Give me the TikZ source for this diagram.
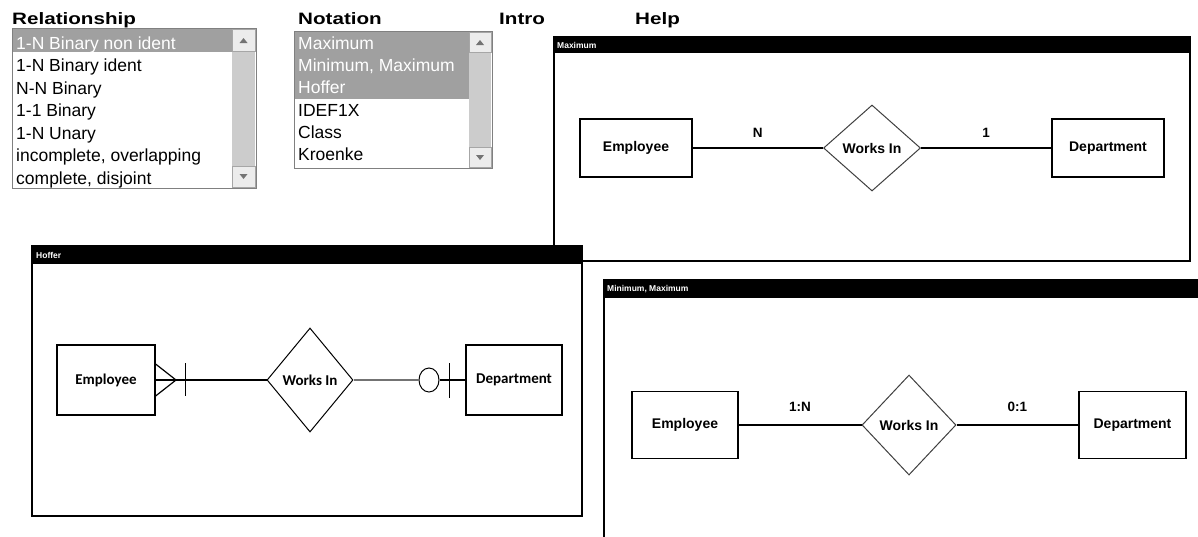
\documentclass[tikz,border=0pt]{standalone}
\usepackage{fontspec}
\setmainfont{Liberation Sans}
\newfontfamily\hdrfont[FakeStretch=1.25]{Liberation Sans}
\newfontfamily\hofont{Carlito}
\usetikzlibrary{shapes.geometric,positioning}
\definecolor{selgray}{RGB}{160,160,160}
\definecolor{trackgray}{RGB}{204,204,204}
\definecolor{btngray}{RGB}{236,236,236}

\begin{document}
\begin{tikzpicture}[x=1pt,y=-1pt,
	myentity/.style={
		draw=black,
		line width=1.2pt,
		fill=white,
		inner sep=0pt,
		font=\bfseries\fontsize{14}{14}\selectfont},
	myrel/.style={
		diamond,
		draw=black!75,
		line width=1pt,
		fill=white,
		inner sep=0pt,
		font=\bfseries\fontsize{14}{14}\selectfont},
	mylabel/.style={font=\bfseries\fontsize{13.5}{13.5}\selectfont},
	mytitle/.style={anchor=west,text=white,inner sep=0pt,font=\bfseries\fontsize{8.5}{8.5}\selectfont},
	myhead/.style={anchor=base west,inner sep=0pt,font=\hdrfont\bfseries\fontsize{16.5}{16.5}\selectfont},
	myitem/.style={anchor=base west,inner sep=0pt,font=\fontsize{17.5}{17.5}\selectfont},
	mybtn/.style={draw=black!35,fill=btngray,line width=0.8pt},
	mywin/.style={draw=black,line width=1.3pt,fill=white},
	myline/.style={line width=1.2pt}
	]
	\clip (0,0) rectangle (1198,536);

	% headers
	\node[myhead] (hrel) at (12,24) {Relationship};
	\node[myhead] (hnot) at (298,24) {Notation};
	\node[myhead] (hint) at (499,24) {Intro};
	\node[myhead] (hhlp) at (635,24) {Help};

	% relationship list
	\draw[draw=black!50,fill=white] (12,28) rectangle (256,188);
	\fill[selgray] (13,29) rectangle (232,52);
	\fill[trackgray] (232,29) rectangle (255,187);
	\draw[mybtn] (232,29) rectangle (255,51);
	\draw[mybtn] (232,166) rectangle (255,187);
	\fill[black!55] (239.5,43) -- (243.5,38) -- (247.5,43) -- cycle;
	\fill[black!55] (239.5,174) -- (243.5,179) -- (247.5,174) -- cycle;
	\foreach \i/\txt/\col in {% row/text/colour
		1/1-N Binary non ident/white,
		2/1-N Binary ident/black,
		3/N-N Binary/black,
		4/1-1 Binary/black,
		5/1-N Unary/black,
		6/{incomplete, overlapping}/black,
		7/{complete, disjoint}/black}
		\node[myitem,text=\col] (rl\i) at (16,49.3+22.45*\i-22.45) {\txt};

	% notation list
	\draw[draw=black!50,fill=white] (294,31) rectangle (492,168);
	\fill[selgray] (295,32) rectangle (469,99);
	\fill[trackgray] (469,32) rectangle (491,167);
	\draw[mybtn] (469,32) rectangle (491,52);
	\draw[mybtn] (469,147) rectangle (491,167);
	\fill[black!55] (476,45) -- (480,40) -- (484,45) -- cycle;
	\fill[black!55] (476,155) -- (480,160) -- (484,155) -- cycle;
	\foreach \i/\txt/\col in {%
		1/Maximum/white,
		2/{Minimum, Maximum}/white,
		3/Hoffer/white,
		4/IDEF1X/black,
		5/Class/black,
		6/Kroenke/black}
		\node[myitem,text=\col] (nl\i) at (298,49.3+22.3*\i-22.3) {\txt};

	% Maximum window
	\draw[mywin] (554,37) rectangle (1190,261);
	\fill (554,37) rectangle (1190,53);
	\node[mytitle] (tmax) at (557,45.5) {Maximum};
	\node[myentity,minimum width=112,minimum height=58] (memp) at (636,148) {Employee};
	\node[myrel,minimum width=97,minimum height=86] (mrel) at (872,148) {Works In};
	\node[myentity,minimum width=112,minimum height=58] (mdep) at (1108,148) {Department};
	\draw[myline] (memp) -- node[mylabel,yshift=15pt] {N} (mrel);
	\draw[myline] (mrel) -- node[mylabel,yshift=15pt] {1} (mdep);

	% Hoffer window
	\draw[mywin] (32,246) rectangle (582,516);
	\fill (32,246) rectangle (582,264);
	\node[mytitle] (thof) at (36,255) {Hoffer};
	\node[myentity,font=\hofont\bfseries\fontsize{15}{15}\selectfont,minimum width=98,minimum height=70] (hemp) at (106,380) {Employee};
	\node[myrel,draw=black,font=\hofont\bfseries\fontsize{15}{15}\selectfont,minimum width=86,minimum height=104] (hrl) at (310,380) {Works In};
	\node[myentity,font=\hofont\bfseries\fontsize{15}{15}\selectfont,minimum width=96,minimum height=70] (hdep) at (514,380) {Department};
	\node[ellipse,draw=black,line width=1pt,minimum width=20,minimum height=24,inner sep=0pt] (hcirc) at (429,380) {};
	\coordinate (hfoot) at (176,380);
	\draw[myline] (hemp.east) -- (hrl.west);
	\draw[myline] ([yshift=16pt]hemp.east) -- (hfoot) -- ([yshift=-16pt]hemp.east);
	\draw[myline] ([shift={(30pt,17pt)}]hemp.east) -- ([shift={(30pt,-16pt)}]hemp.east);
	\draw[myline,black!55] (hrl.east) -- (hcirc.west);
	\draw[myline] (hcirc.east) -- (hdep.west);
	\draw[myline] ([shift={(-16pt,17pt)}]hdep.west) -- ([shift={(-16pt,-18pt)}]hdep.west);

	% Minimum, Maximum window
	\draw[mywin] (604,280) rectangle (1210,550);
	\fill (604,280) rectangle (1210,298);
	\node[mytitle] (tmin) at (607,289) {Minimum, Maximum};
	\node[myentity,minimum width=106,minimum height=67] (nemp) at (685,425) {Employee};
	\node[myrel,minimum width=94,minimum height=100] (nrel) at (909,425) {Works In};
	\node[myentity,minimum width=107,minimum height=67] (ndep) at (1132.5,425) {Department};
	\draw[myline] (nemp) -- node[mylabel,yshift=18pt] {1:N} (nrel);
	\draw[myline] (nrel) -- node[mylabel,yshift=18pt] {0:1} (ndep);
\end{tikzpicture}
\end{document}
